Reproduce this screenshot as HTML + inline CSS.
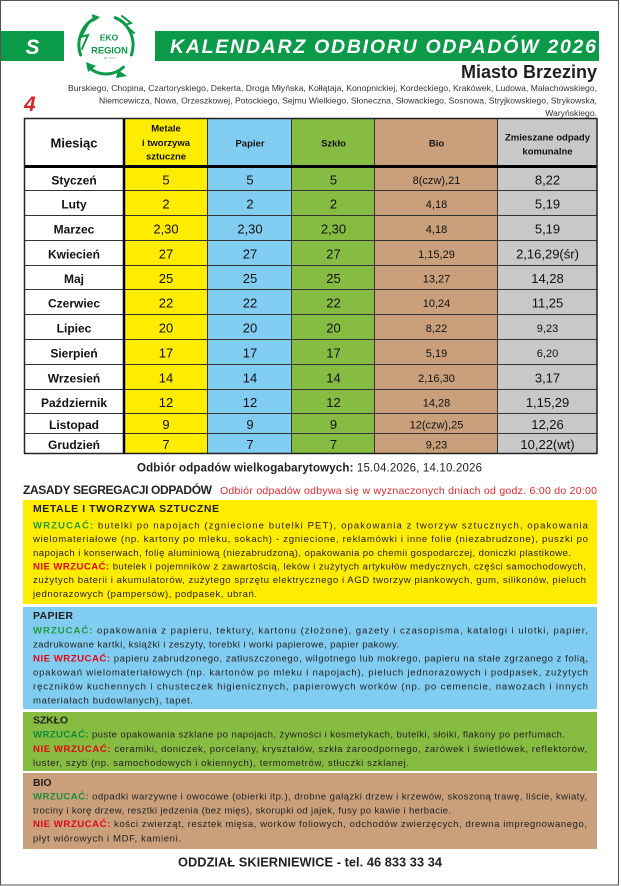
<!DOCTYPE html>
<html><head><meta charset="utf-8"><style>
html,body{margin:0;padding:0;background:#fff;}
svg{display:block;font-family:"Liberation Sans",sans-serif;}
</style></head><body>
<svg width="621" height="886" viewBox="0 0 621 886" xmlns="http://www.w3.org/2000/svg">
<rect x="0" y="0" width="621" height="886" fill="#fff"/>
<rect x="0.5" y="0.5" width="618" height="884.5" fill="none" stroke="#555" stroke-width="1"/>

<!-- header bars -->
<rect x="1" y="31" width="63" height="30" fill="#0b9a48"/>
<text x="32.5" y="54" font-size="21" font-weight="bold" font-style="italic" fill="#fff" text-anchor="middle">S</text>
<rect x="155" y="31" width="444" height="30" fill="#0b9a48"/>
<text x="170" y="53" font-size="19.5" font-weight="bold" font-style="italic" fill="#fff" textLength="426" lengthAdjust="spacing">KALENDARZ ODBIORU ODPADÓW 2026</text>

<!-- logo -->
<g fill="none" stroke="#0b9a48" stroke-width="3" stroke-linecap="round">
<path d="M80.6 54.9 A27 29 0 0 1 96.8 17.7"/>
<path d="M115.2 17.7 A27 29 0 0 1 131.4 54.9"/>
<path d="M123.4 67.2 A27 29 0 0 1 88.6 67.2"/>
<path d="M88 24 L81 37 L88 35 L82 49" stroke-width="2"/>
<path d="M122 16 L131 23 L125 25 L134 33" stroke-width="2"/>
</g>
<polygon points="86,62 96,66 88,72" fill="#0b9a48"/>
<polygon points="118,70 127,76 116,78" fill="#0b9a48"/>
<polygon points="92,14 100,17 93,22" fill="#0b9a48"/>
<text x="109" y="40.7" font-size="8.5" font-weight="bold" fill="#0b9a48" text-anchor="middle">EKO</text>
<text x="109.5" y="53.3" font-size="9.3" font-weight="bold" fill="#0b9a48" text-anchor="middle">REGION</text>
<text x="110" y="58.5" font-size="3" fill="#0b9a48" text-anchor="middle">sp. z o.o.</text>

<text x="597" y="78" font-size="18" font-weight="bold" text-anchor="end" fill="#231f20">Miasto Brzeziny</text>
<g font-size="8.6" fill="#333">
<text x="68" y="91" textLength="529" lengthAdjust="spacing">Burskiego, Chopina, Czartoryskiego, Dekerta, Droga Młyńska, Kołłątaja, Konopnickiej, Kordeckiego, Krakówek, Ludowa, Małachowskiego,</text>
<text x="99" y="103.5" textLength="498" lengthAdjust="spacing">Niemcewicza, Nowa, Orzeszkowej, Potockiego, Sejmu Wielkiego, Słoneczna, Słowackiego, Sosnowa, Stryjkowskiego, Strykowska,</text>
<text x="597" y="116" text-anchor="end">Waryńskiego.</text>
</g>
<text x="24" y="111" font-size="21" font-weight="bold" font-style="italic" fill="#d6262d">4</text>

<!-- table backgrounds -->
<rect x="24" y="118" width="100" height="336" fill="#fff"/>
<rect x="124" y="118" width="84" height="336" fill="#ffec00"/>
<rect x="208" y="118" width="84" height="336" fill="#80cdf1"/>
<rect x="292" y="118" width="83" height="336" fill="#86bc42"/>
<rect x="375" y="118" width="123" height="336" fill="#c9a07b"/>
<rect x="498" y="118" width="99" height="336" fill="#c8c8c8"/>
<path d="M24 190.5H597M24 215.5H597M24 240.5H597M24 265.5H597M24 289.5H597M24 314.5H597M24 339.5H597M24 364.5H597M24 389.5H597M24 413.5H597M24 433.5H597" stroke="#333" stroke-width="1"/>
<path d="M207.5 118V454M291.5 118V454M374.5 118V454M497.5 118V454" stroke="#333" stroke-width="1"/>
<path d="M24 166.5H597" stroke="#000" stroke-width="3"/>
<path d="M124 118V454" stroke="#000" stroke-width="2.5"/>
<rect x="24.5" y="118.5" width="572.5" height="335" fill="none" stroke="#222" stroke-width="1.5"/>

<!-- header text -->
<g font-weight="bold" fill="#111" text-anchor="middle">
<text x="74" y="147.5" font-size="13">Miesiąc</text>
<g font-size="9.5">
<text x="166" y="131.5">Metale</text>
<text x="166" y="146">i tworzywa</text>
<text x="166" y="159.5">sztuczne</text>
<text x="250" y="146.5">Papier</text>
<text x="333.5" y="146.5">Szkło</text>
<text x="436.5" y="146.5">Bio</text>
<text x="547.5" y="140.5">Zmieszane odpady</text>
<text x="547.5" y="154.5">komunalne</text>
</g>
</g>

<!-- months -->
<g font-size="12" font-weight="bold" fill="#111" text-anchor="middle">
<text x="74" y="184.5">Styczeń</text>
<text x="74" y="208.5">Luty</text>
<text x="74" y="233.5">Marzec</text>
<text x="74" y="258.3">Kwiecień</text>
<text x="74" y="282.8">Maj</text>
<text x="74" y="307.5">Czerwiec</text>
<text x="74" y="332.5">Lipiec</text>
<text x="74" y="357.5">Sierpień</text>
<text x="74" y="382.3">Wrzesień</text>
<text x="74" y="406.8">Październik</text>
<text x="74" y="429">Listopad</text>
<text x="74" y="449">Grudzień</text>
</g>

<!-- values yellow/blue/green -->
<g font-size="13" fill="#111" text-anchor="middle">
<text x="166" y="184.5">5</text><text x="250" y="184.5">5</text><text x="333.5" y="184.5">5</text>
<text x="166" y="208.5">2</text><text x="250" y="208.5">2</text><text x="333.5" y="208.5">2</text>
<text x="166" y="233.5">2,30</text><text x="250" y="233.5">2,30</text><text x="333.5" y="233.5">2,30</text>
<text x="166" y="258.3">27</text><text x="250" y="258.3">27</text><text x="333.5" y="258.3">27</text>
<text x="166" y="282.8">25</text><text x="250" y="282.8">25</text><text x="333.5" y="282.8">25</text>
<text x="166" y="307.5">22</text><text x="250" y="307.5">22</text><text x="333.5" y="307.5">22</text>
<text x="166" y="332.5">20</text><text x="250" y="332.5">20</text><text x="333.5" y="332.5">20</text>
<text x="166" y="357.5">17</text><text x="250" y="357.5">17</text><text x="333.5" y="357.5">17</text>
<text x="166" y="382.3">14</text><text x="250" y="382.3">14</text><text x="333.5" y="382.3">14</text>
<text x="166" y="406.8">12</text><text x="250" y="406.8">12</text><text x="333.5" y="406.8">12</text>
<text x="166" y="429">9</text><text x="250" y="429">9</text><text x="333.5" y="429">9</text>
<text x="166" y="449">7</text><text x="250" y="449">7</text><text x="333.5" y="449">7</text>
<!-- gray -->
<text x="547.5" y="184.5">8,22</text>
<text x="547.5" y="208.5">5,19</text>
<text x="547.5" y="233.5">5,19</text>
<text x="547.5" y="258.3">2,16,29(śr)</text>
<text x="547.5" y="282.8">14,28</text>
<text x="547.5" y="307.5">11,25</text>
<text x="547.5" y="332" font-size="11">9,23</text>
<text x="547.5" y="357" font-size="11">6,20</text>
<text x="547.5" y="382.3">3,17</text>
<text x="547.5" y="406.8">1,15,29</text>
<text x="547.5" y="429">12,26</text>
<text x="547.5" y="449">10,22(wt)</text>
</g>
<!-- bio -->
<g font-size="11" fill="#111" text-anchor="middle">
<text x="436.5" y="184">8(czw),21</text>
<text x="436.5" y="208">4,18</text>
<text x="436.5" y="233">4,18</text>
<text x="436.5" y="257.8">1,15,29</text>
<text x="436.5" y="282.3">13,27</text>
<text x="436.5" y="307">10,24</text>
<text x="436.5" y="332">8,22</text>
<text x="436.5" y="357">5,19</text>
<text x="436.5" y="381.8">2,16,30</text>
<text x="436.5" y="406.3">14,28</text>
<text x="436.5" y="428.5">12(czw),25</text>
<text x="436.5" y="448.5">9,23</text>
</g>

<!-- below table -->
<text x="137" y="471.5" font-size="11.5" fill="#231f20" textLength="345" lengthAdjust="spacing"><tspan font-weight="bold">Odbiór odpadów wielkogabarytowych:</tspan> 15.04.2026, 14.10.2026</text>
<text x="23" y="494" font-size="12" font-weight="bold" fill="#231f20" textLength="189" lengthAdjust="spacing">ZASADY SEGREGACJI ODPADÓW</text>
<text x="220" y="494" font-size="10.5" fill="#e2262b" textLength="377" lengthAdjust="spacing">Odbiór odpadów odbywa się w wyznaczonych dniach od godz. 6:00 do 20:00</text>

<!-- boxes -->
<rect x="23" y="500" width="574" height="104" fill="#ffec00"/>
<rect x="23" y="607" width="574" height="102" fill="#80cdf1"/>
<rect x="23" y="712" width="574" height="59" fill="#86bc42"/>
<rect x="23" y="773" width="574" height="76" fill="#c9a07b"/>

<g font-size="9.6" fill="#231f20">
<!-- yellow -->
<text x="33" y="512" font-size="10.5" font-weight="bold" textLength="186" lengthAdjust="spacing">METALE I TWORZYWA SZTUCZNE</text>
<text x="33" y="528.5" textLength="555" lengthAdjust="spacing"><tspan font-weight="bold" fill="#1f9a3c">WRZUCAĆ:</tspan> butelki po napojach (zgniecione butelki PET), opakowania z tworzyw sztucznych, opakowania</text>
<text x="33" y="542" textLength="555" lengthAdjust="spacing">wielomateriałowe (np. kartony po mleku, sokach) - zgniecione, reklamówki i inne folie (niezabrudzone), puszki po</text>
<text x="33" y="556" textLength="538" lengthAdjust="spacing">napojach i konserwach, folię aluminiową (niezabrudzoną), opakowania po chemii gospodarczej, doniczki plastikowe.</text>
<text x="33" y="569.5" textLength="553" lengthAdjust="spacing"><tspan font-weight="bold" fill="#e30613">NIE WRZUCAĆ:</tspan> butelek i pojemników z zawartością, leków i zużytych artykułów medycznych, części samochodowych,</text>
<text x="33" y="583" textLength="553" lengthAdjust="spacing">zużytych baterii i akumulatorów, zużytego sprzętu elektrycznego i AGD tworzyw piankowych, gum, silikonów, pieluch</text>
<text x="33" y="597" textLength="224" lengthAdjust="spacing">jednorazowych (pampersów), podpasek, ubrań.</text>

<!-- blue -->
<text x="33" y="619" font-size="10.5" font-weight="bold" textLength="40" lengthAdjust="spacing">PAPIER</text>
<text x="33" y="633.5" textLength="555" lengthAdjust="spacing"><tspan font-weight="bold" fill="#1f9a3c">WRZUCAĆ:</tspan> opakowania z papieru, tektury, kartonu (złożone), gazety i czasopisma, katalogi i ulotki, papier,</text>
<text x="33" y="647.5" textLength="366" lengthAdjust="spacing">zadrukowane kartki, książki i zeszyty, torebki i worki papierowe, papier pakowy.</text>
<text x="33" y="661.5" textLength="555" lengthAdjust="spacing"><tspan font-weight="bold" fill="#e30613">NIE WRZUCAĆ:</tspan> papieru zabrudzonego, zatłuszczonego, wilgotnego lub mokrego, papieru na stałe zgrzanego z folią,</text>
<text x="33" y="675.5" textLength="555" lengthAdjust="spacing">opakowań wielomateriałowych (np. kartonów po mleku i napojach), pieluch jednorazowych i podpasek, zużytych</text>
<text x="33" y="689.5" textLength="555" lengthAdjust="spacing">ręczników kuchennych i chusteczek higienicznych, papierowych worków (np. po cemencie, nawozach i innych</text>
<text x="33" y="703.5" textLength="160" lengthAdjust="spacing">materiałach budowlanych), tapet.</text>

<!-- green -->
<text x="33" y="723.5" font-size="10.5" font-weight="bold" textLength="35" lengthAdjust="spacing">SZKŁO</text>
<text x="33" y="737.5" textLength="532" lengthAdjust="spacing"><tspan font-weight="bold" fill="#0f8a3a">WRZUCAĆ:</tspan> puste opakowania szklane po napojach, żywności i kosmetykach, butelki, słoiki, flakony po perfumach.</text>
<text x="33" y="752" textLength="554" lengthAdjust="spacing"><tspan font-weight="bold" fill="#e30613">NIE WRZUCAĆ:</tspan> ceramiki, doniczek, porcelany, kryształów, szkła żaroodpornego, żarówek i świetlówek, reflektorów,</text>
<text x="33" y="766" textLength="376" lengthAdjust="spacing">luster, szyb (np. samochodowych i okiennych), termometrów, stłuczki szklanej.</text>

<!-- brown -->
<text x="33" y="786" font-size="10.5" font-weight="bold" textLength="18.5" lengthAdjust="spacing">BIO</text>
<text x="33" y="799.5" textLength="554" lengthAdjust="spacing"><tspan font-weight="bold" fill="#1a8f3c">WRZUCAĆ:</tspan> odpadki warzywne i owocowe (obierki itp.), drobne gałązki drzew i krzewów, skoszoną trawę, liście, kwiaty,</text>
<text x="33" y="813.5" textLength="418" lengthAdjust="spacing">trociny i korę drzew, resztki jedzenia (bez mięs), skorupki od jajek, fusy po kawie i herbacie.</text>
<text x="33" y="827" textLength="554" lengthAdjust="spacing"><tspan font-weight="bold" fill="#e30613">NIE WRZUCAĆ:</tspan> kości zwierząt, resztek mięsa, worków foliowych, odchodów zwierzęcych, drewna impregnowanego,</text>
<text x="33" y="841.5" textLength="148" lengthAdjust="spacing">płyt wiórowych i MDF, kamieni.</text>
</g>

<text x="178" y="866.5" font-size="12.8" font-weight="bold" fill="#231f20" textLength="264" lengthAdjust="spacing">ODDZIAŁ SKIERNIEWICE - tel. 46 833 33 34</text>
</svg>
</body></html>
